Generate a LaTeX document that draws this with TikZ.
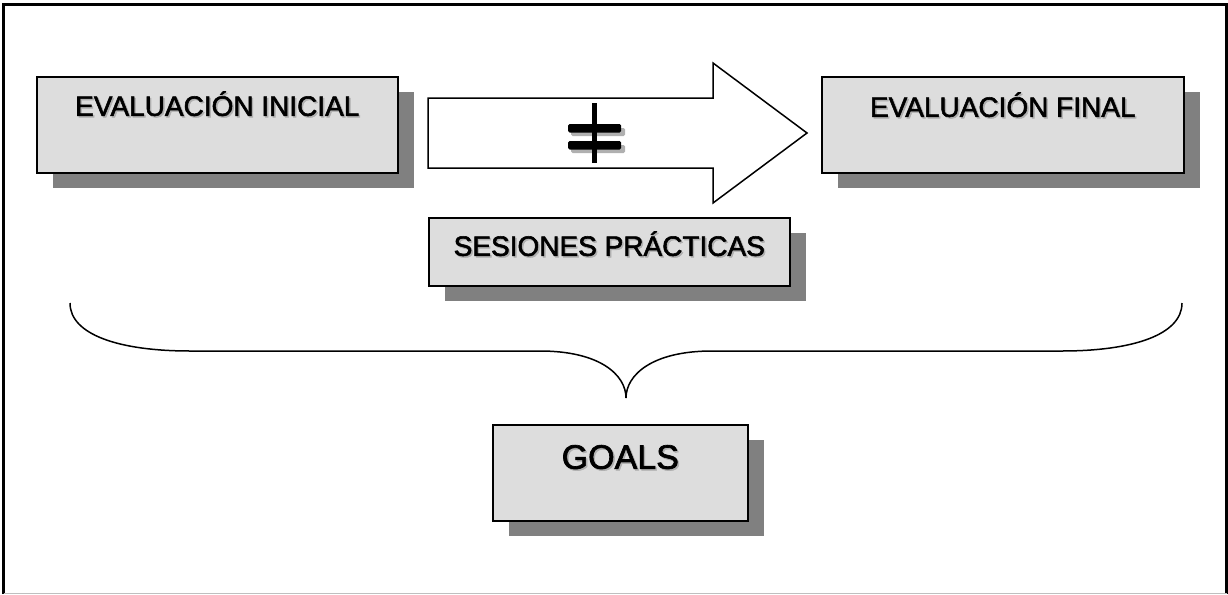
\documentclass[tikz,border=0pt]{standalone}
\usepackage{fontspec}
\setmainfont{Liberation Sans}[FakeBold=2]
\usetikzlibrary{shadows}
\definecolor{boxgray}{HTML}{DDDDDD}
\definecolor{shadegray}{HTML}{808080}
\definecolor{textshade}{HTML}{B0B0B0}
\newcommand{\sombra}[1]{\makebox[0pt][l]{\raisebox{-1.5pt}{\hspace{1.5pt}\textcolor{textshade}{#1}}}#1}
\begin{document}
\begin{tikzpicture}[x=1pt, y=-1pt,
    caja/.style={draw, line width=1.6pt, fill=boxgray, inner sep=0pt, anchor=north west,
      drop shadow={shadow xshift=16pt, shadow yshift=-15pt, fill=shadegray, opacity=1},
      font=\fontsize{28}{30}\selectfont}]
      \useasboundingbox (0,0) rectangle (1228,594);
      \draw[line width=2.2pt] (3.5,594) -- (3.5,4.5) -- (1226.5,4.5) -- (1226.5,594);
      \draw[line width=1pt, black!25] (3.5,593.5) -- (1226.5,593.5);
      \node[caja, minimum width=361pt, text height=39pt, text depth=57pt] (inicial) at (36,76) {\sombra{EVALUACIÓN INICIAL}};
      \node[caja, minimum width=362pt, text height=40pt, text depth=56pt] (final) at (821,76) {\sombra{EVALUACIÓN FINAL}};
      \node[caja, minimum width=361pt, text height=38pt, text depth=30pt] (sesiones) at (428,217) {\sombra{SESIONES PRÁCTICAS}};
      \node[caja, minimum width=255pt, text height=44pt, text depth=52pt, font=\fontsize{34}{36}\selectfont] (goals) at (492,424) {\sombra{GOALS}};
      \draw[line width=1.5pt, fill=white] (428,98) -- (713,98) -- (713,63) -- (807,133) -- (713,203) -- (713,168) -- (428,168) -- cycle;
      \fill[textshade, rounded corners=1.5pt] (571,128) rectangle (625,136) (571,145) rectangle (625,153);
      \fill (592,103) rectangle (597,163);
      \fill[rounded corners=1.5pt] (568,124) rectangle (621,132.5) (568,141) rectangle (621,149.5);
      \draw[line width=1.5pt] (70,303) .. controls (70,335) and (120,351) .. (190,351) -- (540,351)
        .. controls (600,351) and (626,375) .. (626,398) .. controls (626,375) and (652,351) .. (712,351)
        -- (1062,351) .. controls (1132,351) and (1182,335) .. (1182,303);
\end{tikzpicture}
\end{document}
